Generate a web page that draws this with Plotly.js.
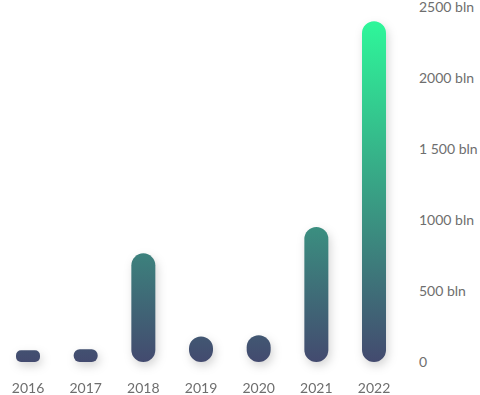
<!DOCTYPE html>
<html>
<head>
<meta charset="utf-8">
<script src="https://cdn.plot.ly/plotly-3.0.1.min.js"></script>
<style>
  html, body { margin: 0; padding: 0; background: #fff; }
  #chart { width: 480px; height: 395px; }
  .barlayer .point path { fill: url(#barGrad) !important; }
  .barlayer { filter: drop-shadow(2px 4px 5px rgba(0,0,0,0.17)); }
</style>
</head>
<body>
<svg width="0" height="0" style="position:absolute">
  <defs>
    <linearGradient id="barGrad" gradientUnits="userSpaceOnUse" x1="0" x2="0" y1="355" y2="14">
      <stop offset="0" stop-color="#434a6f"></stop>
      <stop offset="1" stop-color="#2ef79a"></stop>
    </linearGradient>
  </defs>
</svg>
<div id="chart"></div>
<script>
// Data
var years = ["2016", "2017", "2018", "2019", "2020", "2021", "2022"];
var values = [82, 90, 765, 180, 188, 950, 2400];
var tickValues = [0, 500, 1000, 1500, 2000, 2500];
var tickLabels = ["0", "500 bln", "1000 bln", "1 500 bln", "2000 bln", "2500 bln"];

// Layout geometry
var W = 480, H = 395;
var M = { l: 0, r: 70, t: 7, b: 33 };
var yMax = 2500;
var plotH = H - M.t - M.b;
var pxPerUnit = plotH / yMax;
var xRange = [-0.4856, 6.624];
var pxPerCat = (W - M.l - M.r) / (xRange[1] - xRange[0]);
var barPx = 24;
var barW = barPx / pxPerCat;

// gradient aligned with value axis (0 -> 2400)
var g = document.getElementById('barGrad');
g.setAttribute('y1', plotH);
g.setAttribute('y2', plotH - 2400 * pxPerUnit);

// one bar per year; an explicit base makes Plotly round both ends
var traces = [];
for (var i = 0; i < years.length; i++) {
  var hpx = values[i] * pxPerUnit;
  var r = Math.min(12, hpx / 2);
  traces.push({
    type: 'bar', x: [years[i]], y: [values[i]], base: [0],
    width: barW, marker: { color: '#3a9a82', cornerradius: r, line: { width: 0 } },
    cliponaxis: false, hoverinfo: 'skip', showlegend: false
  });
}

var font = { family: 'Lato, "Open Sans", sans-serif', size: 14, color: '#6e6e6e' };

var layout = {
  width: W, height: H,
  margin: M,
  paper_bgcolor: '#ffffff', plot_bgcolor: '#ffffff',
  barmode: 'overlay',
  showlegend: false,
  font: font,
  xaxis: {
    type: 'category', range: xRange, fixedrange: true,
    showgrid: false, zeroline: false, showline: false, ticks: '',
    tickfont: font, ticklabelstandoff: 16, ticklabeloverflow: 'allow'
  },
  yaxis: {
    side: 'right', range: [0, yMax], fixedrange: true,
    tickmode: 'array', tickvals: tickValues, ticktext: tickLabels,
    showgrid: false, zeroline: false, showline: false, ticks: '',
    tickfont: font, ticklabelstandoff: 8, ticklabeloverflow: 'allow'
  }
};

Plotly.newPlot('chart', traces, layout, { displayModeBar: false, staticPlot: true });
</script>
</body>
</html>
